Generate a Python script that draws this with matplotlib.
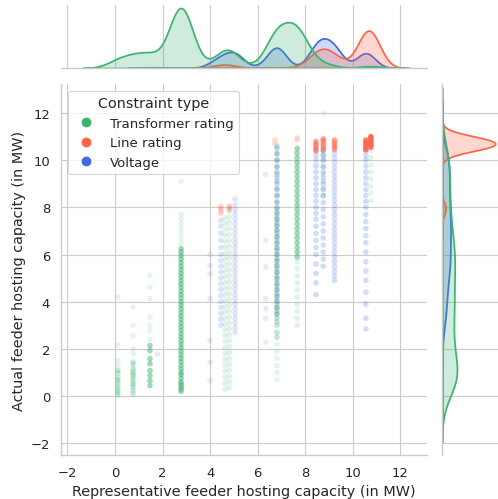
import numpy as np
import pandas as pd
import matplotlib
matplotlib.use("Agg")
import matplotlib.pyplot as plt
from matplotlib.colors import to_rgba
from matplotlib.lines import Line2D
import seaborn as sns

# Feeder columns: representative capacity (x), listed actual
# capacities (y) and the approximate number of feeders that fall on each column.
transformer_x = [0.12, 0.12, 0.76, 0.76, 1.47, 1.47, 2.78, 2.78, 4.63, 4.81,
                 6.81, 6.81, 7.66, 7.66, 8.76, 10.76]
transformer_y = [
    [0.05, 0.1, 0.2, 0.25, 0.35, 0.45, 0.55, 0.65, 0.7, 0.8, 0.95, 1.05, 1.1],
    [1.3, 1.5, 2.15, 4.2],
    [0.1, 0.24, 0.38, 0.5, 0.59, 0.73, 0.85, 0.94, 1.05, 1.16, 1.34, 1.44],
    [1.79, 2.0, 2.57, 3.0, 3.77],
    [0.45, 0.66, 0.87, 1.08, 1.37, 1.58, 1.93, 2.14],
    [2.4, 2.78, 2.99, 3.35, 4.12, 4.62, 5.11],
    [0.2, 0.3, 0.4, 0.5, 0.6, 0.75, 0.9, 1.0, 1.15, 1.3, 1.45, 1.6, 1.75, 1.9,
     2.05, 2.2, 2.35, 2.5, 2.65, 2.8, 2.95, 3.1, 3.25, 3.4, 3.55, 3.7, 3.85,
     4.0, 4.15, 4.3, 4.45, 4.6, 4.75, 4.9, 5.05, 5.2, 5.35, 5.5, 5.65, 5.8,
     5.95, 6.1, 6.25],
    [6.5, 6.7, 6.9, 7.1, 7.3, 7.5, 7.7, 9.1],
    [0.3, 0.55, 0.8, 1.05, 1.3, 1.55, 1.8, 2.05, 2.3, 2.55, 2.8, 3.05, 3.3,
     3.55, 3.8, 4.05, 4.3, 4.55, 4.8, 5.05, 5.3, 5.55, 5.8, 6.05, 6.3, 6.55,
     6.8, 7.05, 7.3, 7.55],
    [0.35, 0.6, 0.85, 1.1, 1.35, 1.6, 1.85, 2.1, 2.35, 2.6, 2.85, 3.1, 3.35,
     3.6, 3.85, 4.1, 4.35, 4.6, 4.85, 5.1, 5.35, 5.6, 5.85, 6.1, 6.35, 6.6,
     6.85, 7.1, 7.35, 7.6, 7.85],
    [2.5, 2.7, 3.0, 3.15, 3.3, 3.45, 3.6, 3.75, 3.9, 4.05, 4.2, 4.35, 4.5,
     4.65, 4.8, 4.95, 5.1, 5.25, 5.4, 5.55, 5.7, 5.85, 6.0, 6.15, 6.3, 6.45,
     6.6, 6.75, 6.9, 7.05, 7.2, 7.35, 7.5, 7.65, 7.8, 7.95, 8.2, 8.5, 8.8,
     9.1, 9.4, 9.7, 10.0, 10.3, 10.6],
    [0.7, 1.0, 1.3, 1.6, 1.9, 2.2],
    [5.9, 6.1, 6.3, 6.5, 6.7, 6.9, 7.1, 7.3, 7.5, 7.7, 7.9, 8.1, 8.3, 8.5,
     8.7, 8.9, 9.1, 9.3, 9.5, 9.7, 9.9, 10.1, 10.3, 10.5],
    [3.0, 3.3, 3.6, 3.9, 4.2, 4.5, 4.8, 5.1, 5.4, 5.7],
    [8.5, 8.8, 9.1, 9.4, 9.7, 10.0, 10.2, 10.4],
    [8.3, 8.6, 8.9, 9.2, 9.5, 9.8, 10.1, 10.4],
]
transformer_n = [35, 4, 45, 5, 65, 7, 380, 8, 60, 60, 200, 6, 200, 20, 25, 12]

line_x = [4.45, 4.81, 6.72, 7.66, 8.45, 8.76, 8.8, 9.23, 10.55, 10.76]
line_y = [
    [7.75, 7.85, 7.95, 8.05],
    [7.9, 8.0, 8.05],
    [10.7, 10.8, 10.9],
    [10.85, 10.9, 10.95],
    [10.4, 10.5, 10.6, 10.7, 10.8],
    [10.45, 10.55, 10.65, 10.75, 10.85, 10.9],
    [12.0],
    [10.45, 10.55, 10.65, 10.75, 10.85],
    [10.45, 10.55, 10.65, 10.75, 10.85],
    [10.55, 10.65, 10.75, 10.85, 10.95, 11.0],
]
line_n = [12, 10, 3, 3, 45, 50, 1, 45, 95, 130]

voltage_x = [1.78, 4.0, 4.45, 5.05, 6.34, 6.81, 8.45, 8.76, 9.23, 10.55]
voltage_y = [
    [1.79],
    [0.66, 1.44, 2.36, 4.12, 5.18, 5.53, 6.0],
    [3.0, 3.25, 3.5, 3.75, 4.0, 4.25, 4.5, 4.75, 5.0, 5.25, 5.5, 5.75, 6.0,
     6.3, 6.6, 6.9, 7.2, 7.45],
    [2.7, 2.9, 3.1, 3.3, 3.5, 3.7, 3.9, 4.1, 4.3, 4.5, 4.7, 4.9, 5.1, 5.3,
     5.5, 5.7, 5.9, 6.1, 6.3, 6.5, 6.7, 6.9, 7.1, 7.3, 7.5, 7.7, 7.9, 8.1,
     8.35],
    [2.29, 3.28, 3.7, 4.12, 5.47, 6.6, 9.4],
    [3.5, 3.75, 4.0, 4.25, 4.5, 4.75, 5.0, 5.25, 5.5, 5.75, 6.0, 6.25, 6.5,
     6.75, 7.0, 7.25, 7.5, 7.75, 8.0, 8.25, 8.5, 8.75, 9.0, 9.25, 9.5, 9.75,
     10.0, 10.25, 10.5],
    [4.3, 4.8, 5.2, 5.6, 6.0, 6.3, 6.6, 6.9, 7.2, 7.5, 7.75, 8.0, 8.25, 8.5,
     8.75, 9.0, 9.25, 9.5, 9.75, 10.0, 10.2, 10.4],
    [5.5, 5.8, 6.1, 6.4, 6.7, 7.0, 7.3, 7.6, 7.9, 8.2, 8.5, 8.75, 9.0, 9.25,
     9.5, 9.75, 10.0, 10.2, 10.4],
    [4.9, 5.1, 5.3, 5.5, 5.7, 5.9, 6.1, 6.3, 6.5, 6.7, 6.9, 7.1, 7.3, 7.5,
     7.7, 7.9, 8.1, 8.3, 8.5, 8.7, 8.9, 9.1, 9.3, 9.5, 9.7, 9.9, 10.1, 10.3],
    [2.85, 3.3, 3.9, 4.4, 4.9, 5.3, 5.7, 6.1, 6.5, 6.8, 7.1, 7.4, 7.7, 8.0,
     8.25, 8.5, 8.75, 9.0, 9.25, 9.5, 9.75, 10.0, 10.2, 10.4],
]
voltage_n = [1, 7, 40, 65, 7, 100, 70, 60, 80, 75]

constraint_types = ["Transformer rating", "Line rating", "Voltage"]
palette = {"Transformer rating": "mediumseagreen",
           "Line rating": "tomato",
           "Voltage": "royalblue"}

# Build a long table: one row per listed point, weight = feeders it stands for
rows = []
for ctype, xs, ys, ns in [("Transformer rating", transformer_x, transformer_y, transformer_n),
                          ("Line rating", line_x, line_y, line_n),
                          ("Voltage", voltage_x, voltage_y, voltage_n)]:
    for xv, yv, nv in zip(xs, ys, ns):
        for y in yv:
            rows.append((xv, y, ctype, nv / len(yv)))
df = pd.DataFrame(rows, columns=["rep", "actual", "ctype", "w"])

sns.set_theme(style="whitegrid")

fig = plt.figure(figsize=(6, 6.024), dpi=83)
W, H = 498, 500
ax = fig.add_axes([61 / W, 1 - 456 / H, (427 - 61) / W, (456 - 85) / H])
ax_top = fig.add_axes([61 / W, 1 - 69 / H, (427 - 61) / W, (69 - 6) / H], sharex=ax)
ax_right = fig.add_axes([442 / W, 1 - 456 / H, (498 - 442) / W, (456 - 85) / H], sharey=ax)

# Scatter: transparency stacks with the number of feeders behind each point
base_alpha = 0.13
for ctype in ["Transformer rating", "Voltage", "Line rating"]:
    sub = df[df["ctype"] == ctype]
    rgba = np.tile(to_rgba(palette[ctype]), (len(sub), 1))
    rgba[:, 3] = np.maximum(base_alpha, 1 - (1 - base_alpha) ** (0.6 * sub["w"].values))
    ax.scatter(sub["rep"], sub["actual"], s=24, c=rgba, linewidths=0)

# Marginal densities
sns.kdeplot(data=df, x="rep", hue="ctype", weights="w", hue_order=constraint_types,
            palette=palette, fill=True, common_norm=True, bw_adjust=0.55,
            linewidth=1.5, legend=False, ax=ax_top)
sns.kdeplot(data=df, y="actual", hue="ctype", weights="w", hue_order=constraint_types,
            palette=palette, fill=True, common_norm=True, bw_adjust=0.7,
            linewidth=1.5, legend=False, ax=ax_right)

ax.set_xlim(-2.27, 13.12)
ax.set_ylim(-2.5, 13.23)
ax.set_xticks([-2, 0, 2, 4, 6, 8, 10, 12])
ax.set_yticks([-2, 0, 2, 4, 6, 8, 10, 12])
ax.set_xlabel("Representative feeder hosting capacity (in MW)", fontsize=12.5)
ax.set_ylabel("Actual feeder hosting capacity (in MW)", fontsize=12.5)
ax.tick_params(labelsize=11.4)
sns.despine(ax=ax)

for a in (ax_top, ax_right):
    a.set_xlabel("")
    a.set_ylabel("")
ax_top.tick_params(labelbottom=False, labelleft=False)
ax_top.yaxis.grid(False)
sns.despine(ax=ax_top, left=True)
ax_right.tick_params(labelleft=False, labelbottom=False)
ax_right.xaxis.grid(False)
sns.despine(ax=ax_right, bottom=True)

handles = [Line2D([], [], marker="o", linestyle="", markersize=7.5,
                  markerfacecolor=palette[t], markeredgecolor=palette[t])
           for t in constraint_types]
ax.legend(handles, constraint_types, title="Constraint type", loc="upper left",
          fontsize=11.5, title_fontsize=12.5)

fig.savefig("out.png", dpi=83)
